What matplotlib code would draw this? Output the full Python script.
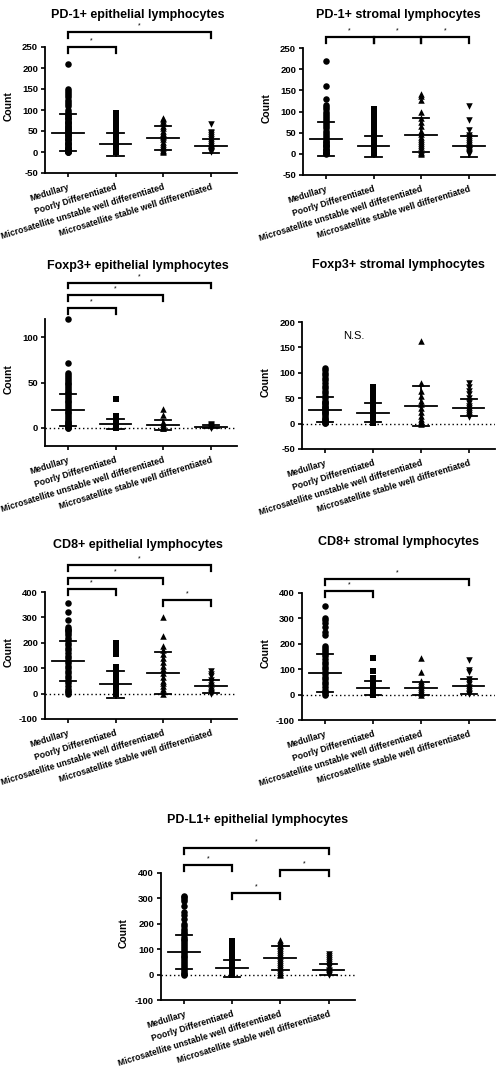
import matplotlib
matplotlib.use("Agg")
import matplotlib.pyplot as plt

plt.rcParams['font.family'] = ['Liberation Sans', 'DejaVu Sans']

# ---------------- data ----------------
categories = ["Medullary", "Poorly Differentiated",
              "Microsatellite unstable well differentiated",
              "Microsatellite stable well differentiated"]
markers = ['o', 's', '^', 'v']

titles = ["PD-1+ epithelial lymphocytes", "PD-1+ stromal lymphocytes",
          "Foxp3+ epithelial lymphocytes", "Foxp3+ stromal lymphocytes",
          "CD8+ epithelial lymphocytes", "CD8+ stromal lymphocytes",
          "PD-L1+ epithelial lymphocytes"]

# PD-1+ epithelial
pd1_epi_vals = [
    [210, 150, 145, 140, 135, 130, 125, 120, 115, 110, 100, 95, 90, 88, 85, 82, 80, 78, 75, 72, 70,
     68, 65, 62, 60, 58, 55, 52, 50, 48, 45, 42, 40, 38, 35, 32, 30, 28, 25, 22, 20, 18, 15, 12,
     10, 8, 6, 5, 4, 3, 2, 1, 0, 0],
    [93, 90, 87, 84, 80, 77, 73, 70, 66, 62, 58, 55, 45, 40, 35, 30, 25, 20, 15, 12, 10, 8, 6, 5,
     4, 3, 2, 1, 0, 0],
    [82, 78, 74, 70, 62, 58, 50, 45, 42, 38, 35, 30, 25, 20, 15, 10, 5, 2, 0],
    [67, 48, 45, 40, 35, 30, 25, 20, 15, 10, 8, 5, 3, 2, 0],
]
pd1_epi_mean = [46, 18, 33, 14.5]
pd1_epi_sd = [44, 27, 28, 17]
pd1_epi_brackets = [(0, 1, 250), (0, 3, 285)]

# PD-1+ stromal
pd1_str_vals = [
    [220, 160, 130, 115, 110, 105, 100, 95, 90, 85, 80, 75, 70, 65, 60, 55, 50, 45, 40, 35, 30, 28,
     25, 22, 20, 18, 15, 12, 10, 8, 5, 3, 2, 1, 0],
    [106, 95, 90, 85, 80, 75, 70, 62, 55, 45, 40, 35, 30, 25, 20, 15, 10, 8, 5, 3, 1, 0],
    [142, 136, 126, 100, 85, 75, 65, 55, 48, 40, 35, 30, 25, 20, 15, 10, 5, 2, 0],
    [112, 80, 57, 45, 40, 35, 30, 25, 20, 15, 12, 10, 8, 5, 3, 0],
]
pd1_str_mean = [36, 18, 44.5, 18]
pd1_str_sd = [40, 25, 41, 25]
pd1_str_brackets = [(0, 1, 275), (1, 2, 275), (2, 3, 275)]

# Foxp3+ epithelial
foxp3_epi_vals = [
    [120, 72, 60, 58, 56, 54, 52, 50, 48, 46, 44, 42, 40, 38, 36, 34, 32, 30, 28, 26, 24, 22, 20,
     18, 16, 14, 12, 10, 8, 6, 5, 4, 3, 2, 1, 0, 0],
    [32, 13, 11, 9, 7, 5, 4, 3, 2, 1, 0, 0],
    [21, 14, 6, 4, 2, 1, 0, 0],
    [4, 3, 2, 1, 0, 0],
]
foxp3_epi_mean = [19.5, 4.3, 3.5, 1.2]
foxp3_epi_sd = [18, 5.3, 5.5, 1.4]
foxp3_epi_brackets = [(0, 1, 132), (0, 2, 146), (0, 3, 160)]

# Foxp3+ stromal
foxp3_str_vals = [
    [110, 105, 100, 95, 90, 85, 80, 75, 70, 65, 60, 55, 50, 45, 42, 40, 38, 35, 32, 30, 28, 25, 22,
     20, 18, 15, 12, 10, 8, 5, 3, 2, 1],
    [73, 68, 64, 60, 55, 50, 45, 40, 35, 30, 25, 22, 20, 18, 15, 12, 10, 8, 5, 3, 2, 1],
    [162, 80, 64, 55, 45, 38, 30, 22, 15, 10, 5, 2, 0],
    [80, 72, 65, 58, 50, 45, 40, 35, 30, 25, 20, 16, 13],
]
foxp3_str_mean = [27.5, 21.5, 34.5, 31.5]
foxp3_str_sd = [24.5, 19, 39, 17.5]
foxp3_str_brackets = []

# CD8+ epithelial
cd8_epi_vals = [
    [356, 322, 291, 262, 255, 250, 245, 240, 230, 220, 210, 200, 190, 180, 170, 160, 150, 140, 130,
     120, 110, 100, 90, 80, 70, 60, 50, 40, 30, 20, 10, 5, 0],
    [198, 185, 172, 155, 105, 98, 90, 80, 62, 55, 45, 35, 28, 20, 12, 5, 0],
    [300, 225, 187, 172, 155, 140, 125, 110, 95, 80, 65, 50, 40, 30, 20, 10, 0],
    [90, 78, 68, 55, 45, 35, 25, 15, 8, 3, 0],
]
cd8_epi_mean = [129, 36, 80, 28.5]
cd8_epi_sd = [78, 53.5, 82, 26.5]
cd8_epi_brackets = [(0, 1, 411), (0, 2, 455), (0, 3, 506), (2, 3, 367)]

# CD8+ stromal
cd8_str_vals = [
    [350, 300, 292, 280, 265, 245, 233, 190, 182, 175, 168, 160, 150, 140, 130, 120, 110, 100, 90,
     80, 70, 60, 50, 40, 30, 20, 10, 5, 0],
    [145, 92, 65, 55, 45, 38, 30, 22, 15, 10, 5, 0],
    [145, 90, 55, 45, 38, 30, 22, 15, 10, 5, 0],
    [138, 95, 88, 60, 50, 40, 30, 22, 15, 8, 3],
]
cd8_str_mean = [84, 25, 25, 32]
cd8_str_sd = [75, 27, 26, 31]
cd8_str_brackets = [(0, 1, 408), (0, 3, 455)]

# PD-L1+ epithelial
pdl1_epi_vals = [
    [311, 305, 298, 290, 270, 248, 235, 220, 200, 190, 180, 172, 165, 158, 150, 142, 135, 128, 120,
     112, 105, 98, 90, 82, 75, 68, 60, 52, 45, 38, 30, 22, 15, 8, 3, 0],
    [131, 125, 118, 110, 100, 90, 80, 70, 60, 52, 45, 38, 30, 22, 15, 8, 3, 0],
    [136, 130, 124, 118, 112, 105, 98, 90, 82, 74, 66, 58, 50, 42, 34, 26, 18, 10, 4, 0],
    [82, 74, 66, 58, 50, 42, 35, 28, 20, 14, 8, 3, 0],
]
pdl1_epi_mean = [88, 24.5, 64, 20]
pdl1_epi_sd = [66, 33, 47, 22]
pdl1_epi_brackets = [(0, 1, 431), (0, 3, 498), (1, 2, 320), (2, 3, 411)]

ylims = [(-50, 250), (-50, 250), (-20, 120), (-50, 200), (-100, 400), (-100, 400), (-100, 400)]
yticks = [[-50, 0, 50, 100, 150, 200, 250], [-50, 0, 50, 100, 150, 200, 250],
          [0, 50, 100], [-50, 0, 50, 100, 150, 200],
          [-100, 0, 100, 200, 300, 400], [-100, 0, 100, 200, 300, 400],
          [-100, 0, 100, 200, 300, 400]]
zero_lines = [False, False, True, True, True, True, True]

panels = [
    (pd1_epi_vals, pd1_epi_mean, pd1_epi_sd, pd1_epi_brackets),
    (pd1_str_vals, pd1_str_mean, pd1_str_sd, pd1_str_brackets),
    (foxp3_epi_vals, foxp3_epi_mean, foxp3_epi_sd, foxp3_epi_brackets),
    (foxp3_str_vals, foxp3_str_mean, foxp3_str_sd, foxp3_str_brackets),
    (cd8_epi_vals, cd8_epi_mean, cd8_epi_sd, cd8_epi_brackets),
    (cd8_str_vals, cd8_str_mean, cd8_str_sd, cd8_str_brackets),
    (pdl1_epi_vals, pdl1_epi_mean, pdl1_epi_sd, pdl1_epi_brackets),
]

# ---------------- layout (pixels) ----------------
W, H = 496, 1074
fig = plt.figure(figsize=(W / 100, H / 100), dpi=100)

boxes = [(45, 237, 47, 173), (303, 495, 48, 175),
         (45, 237, 319, 446), (302, 495, 322, 449),
         (45, 237, 592, 719), (302, 495, 593, 720),
         (161, 355, 873, 1000)]
title_pos = [(138, 15), (398, 15), (138, 266), (398, 265), (138, 545), (399, 542), (258, 820)]

for k, (vals, means, sds, brackets) in enumerate(panels):
    l, r, t, b = boxes[k]
    ax = fig.add_axes([l / W, 1 - b / H, (r - l) / W, (b - t) / H])
    lo, hi = ylims[k]
    rng = hi - lo
    if zero_lines[k]:
        ax.axhline(0, color='black', lw=1.0, ls=(0, (1, 2)), zorder=1)
    for i, v in enumerate(vals):
        ax.scatter([i] * len(v), v, marker=markers[i], s=22, color='black',
                   linewidths=0, zorder=3, clip_on=False)
        m, s = means[i], sds[i]
        ax.plot([i - 0.33, i + 0.33], [m, m], color='black', lw=1.3, zorder=4)
        ax.plot([i - 0.17, i + 0.17], [m + s, m + s], color='black', lw=1.3, zorder=4)
        ax.plot([i - 0.17, i + 0.17], [m - s, m - s], color='black', lw=1.3, zorder=4)
        ax.plot([i, i], [m - s, m + s], color='black', lw=1.3, zorder=4)
    leg = 0.045 * rng
    for (a, c, y) in brackets:
        ax.plot([a, a, c, c], [y - leg, y, y, y - leg], color='black', lw=1.6,
                clip_on=False, solid_joinstyle='miter', zorder=5)
        ax.text((a + c) / 2, y + 0.02 * rng, '*', ha='center', va='bottom',
                fontsize=5, clip_on=False)
    if k == 3:
        ax.text(0.6, 172, 'N.S.', ha='center', va='center', fontsize=8)
    ax.set_xlim(-0.48, 3.55)
    ax.set_ylim(lo, hi)
    ax.set_yticks(yticks[k])
    ax.set_yticklabels([str(v) for v in yticks[k]], fontsize=6.8, fontweight='bold')
    ax.set_xticks(range(len(categories)))
    ax.set_xticklabels(categories, fontsize=6.2, fontweight='bold', rotation=17,
                       ha='right', va='top', rotation_mode='anchor')
    for sp in ['top', 'right']:
        ax.spines[sp].set_visible(False)
    for sp in ['left', 'bottom']:
        ax.spines[sp].set_linewidth(1.3)
    ax.tick_params(axis='both', direction='out', length=3, width=1.2, pad=2)
    ax.tick_params(axis='x', pad=4)
    ax.set_ylabel('Count', fontsize=7.5, fontweight='bold')
    ax.yaxis.set_label_coords(-0.165, 0.53)
    tx, ty = title_pos[k]
    fig.text(tx / W, 1 - ty / H, titles[k], ha='center', va='center',
             fontsize=9, fontweight='bold')

fig.savefig('out.png', dpi=100)
